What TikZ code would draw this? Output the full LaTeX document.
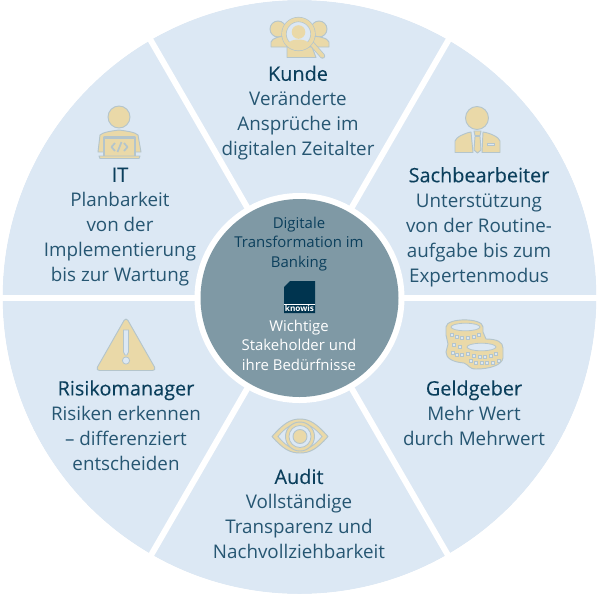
\documentclass[tikz,border=0pt]{standalone}
\usepackage{fontspec}
\setmainfont{Open Sans}
\newfontface\hdfont[FakeBold=0.12]{Open Sans}
\definecolor{wheel}{HTML}{DCE8F4}
\definecolor{hub}{HTML}{7F99A5}
\definecolor{gold}{HTML}{EAD9A8}
\definecolor{edge}{HTML}{B4C5CC}
\definecolor{ink}{HTML}{0B3F5C}
\definecolor{bodyink}{HTML}{265672}
\definecolor{logoblue}{HTML}{00344F}
\tikzset{
  icon/.style={fill=gold,draw=edge,line width=0.7pt,line join=round},
  hole/.style={fill=wheel,draw=edge,line width=0.6pt},
  spoke/.style={draw=white,line width=4.5pt},
  block/.style={align=center,inner sep=0pt,text=bodyink,font=\fontsize{14.1}{18.75}\selectfont},
  hubtext/.style={align=center,inner sep=0pt,font=\fontsize{11.2}{14.6}\selectfont},
  coindot/.style={fill=wheel,draw=edge,line width=0.3pt}
}
\newcommand{\hd}[1]{\textcolor{ink}{\hdfont\fontsize{14.9}{18.75}\selectfont #1}}
\begin{document}
\begin{tikzpicture}[x=0.75pt,y=-0.75pt]
\useasboundingbox (0,0) rectangle (600,594);
\fill[white] (0,0) rectangle (600,594);
\fill[wheel] (299.5,297) circle (297);
% spokes
\coordinate (c) at (299.5,298);
\foreach \a in {0,60,120,180,240,300}
  \draw[spoke] (c) -- ++(\a:305) ;
\fill[white] (299.5,297) circle (310) [even odd rule] (299.5,297) circle (297);
\fill[white] (c) circle (105);
\node[circle,fill=hub,minimum size=148.5pt,inner sep=0pt] (hub) at (c) {};

% central text
\node[hubtext,text=ink] (hubtop) at (299,244) {Digitale\\Transformation im\\Banking};
\node[hubtext,text=white] (hubbot) at (299,345) {Wichtige\\Stakeholder und\\ihre Bedürfnisse};
% logo
\fill[logoblue] (290,281) -- (315,281) -- (315,313) -- (284,313) -- (284,287) -- cycle;
\draw[white,line width=0.3pt] (284,304) -- (315,304);
\node[inner sep=0pt,text=white,font=\fontsize{6.2}{7}\selectfont\bfseries] (logo) at (299.5,308.5) {knowis};

% text blocks
\node[block] (kunde) at (298,113) {\hd{Kunde}\\Veränderte\\Ansprüche im\\digitalen Zeitalter};
\node[block] (sach) at (479,227) {\hd{Sachbearbeiter}\\Unterstützung\\von der Routine-\\aufgabe bis zum\\Expertenmodus};
\node[block] (it) at (120,227) {\hd{IT}\\Planbarkeit\\von der\\Implementierung\\bis zur Wartung};
\node[block] (geld) at (474,413) {\hd{Geldgeber}\\Mehr Wert\\durch Mehrwert};
\node[block] (risk) at (126,425.5) {\hd{Risikomanager}\\Risiken erkennen\\– differenziert\\entscheiden};
\node[block] (audit) at (299,514) {\hd{Audit}\\Vollständige\\Transparenz und\\Nachvollziehbarkeit};

% Kunde icon
\draw[icon] (278,29) circle (8);
\draw[icon] (319,29) circle (8);
\draw[icon] (271,47) -- (271,42) .. controls (272,38) and (280,36) .. (287,36) -- (287,47) -- cycle;
\draw[icon] (329,47) -- (329,42) .. controls (328,38) and (318,36) .. (310,36) -- (310,47) -- cycle;
\draw[icon] (287,57.5) -- (287,47) -- (312,47) -- (316,57.5) -- cycle;
\draw[edge,line width=4pt,line cap=round] (312,44) -- (322.5,56);
\draw[gold,line width=2.8pt,line cap=round] (312,44) -- (322.5,56);
\draw[fill=wheel,draw=edge,line width=3.9pt] (298.5,34) circle (14.5);
\draw[gold,line width=2.9pt] (298.5,34) circle (14.5);
\fill[gold] (298.5,32) circle (6.8);
\fill[gold] (288,45) .. controls (288.5,41) and (293,39.5) .. (298.5,39.5) .. controls (304,39.5) and (308.5,41) .. (309,45) .. controls (304,49) and (293,49) .. (288,45) -- cycle;

% Sachbearbeiter icon
\draw[icon] (477,118) circle (11.5);
\draw[icon] (455,152.5) -- (455,141) .. controls (456,137) and (465,133) .. (471,132) -- (473,152.5) -- cycle;
\draw[icon] (500,152.5) -- (500,141) .. controls (499,137) and (490,133) .. (483,132) -- (482,152.5) -- cycle;
\draw[icon] (474,131) -- (481,131) -- (480,135.5) -- (475,135.5) -- cycle;
\draw[icon] (475,136.5) -- (480,136.5) -- (481,150) -- (477.5,153) -- (474,150) -- cycle;
\draw[hole] (487.5,143.5) rectangle (494.5,145.5);

% IT icon
\draw[icon] (119,117) circle (11);
\draw[icon] (98,152) -- (100,135) .. controls (103,132) and (112,131) .. (119,130) .. controls (126,131) and (135,132) .. (138,135) -- (141,152) -- cycle;
\draw[icon,draw=edge,line width=1.6pt] (104,156) -- (104,137.5) -- (135,137.5) -- (135,156);
\draw[icon] (99,156) -- (140,156) -- (139,158.5) -- (100,158.5) -- cycle;
\draw[edge,line width=1.3pt,line join=round] (115,143) -- (111.5,147) -- (115,151);
\draw[edge,line width=1.3pt,line join=round] (124,143) -- (127.5,147) -- (124,151);
\draw[edge,line width=1.3pt] (121.5,142) -- (117.5,152);

% Geldgeber icon
\draw[icon] (446,327) .. controls (446,317.5) and (483,317.5) .. (483,327) -- (483,332) -- (486,339) .. controls (497,339) and (503,342) .. (503,348) -- (503,358) .. controls (502,365) and (490,369) .. (476,369) .. controls (469,369) and (469,365) .. (464,363) .. controls (452,362) and (446,358) .. (446,352) -- (448,344) -- (446,335) -- cycle;
\draw[hole] (465.5,327) ellipse (14.5 and 3.8);
\draw[hole] (481.5,347) ellipse (14.5 and 3.8);
\foreach \p in {(451.7,334.3),(456.7,336.7),(461.7,337.3),(467.7,337.3),(473.3,336.7),(479,334.3),
  (454,345),(460,346.7),(452.3,352.3),(456.7,354.3),(461.7,355),
  (467.7,353.3),(473.3,356),(479.3,356.7),(485,356.7),(490.7,356),(496,353.3),
  (471,361),(476,362.7),(481.7,362.7),(486.7,362.7),(492.7,362.3),(498.3,360.7)}
  \fill[coindot] \p ++(-1.4,-1.4) rectangle ++(2.8,2.8);

% Risikomanager icon
\draw[icon,rounded corners=3pt] (126,317) -- (156.5,370.5) -- (95.5,370.5) -- cycle;
\draw[hole] (123.5,330) -- (128.5,330) -- (128.5,352) -- (127,355) -- (125,355) -- (123.5,352) -- cycle;
\draw[hole] (126,360.5) circle (3.6);

% Audit icon
\draw[icon] (272,436.5) .. controls (283,424) and (290,419) .. (300,419) .. controls (310,419) and (317,424) .. (328,436.5) .. controls (317,449) and (310,453) .. (300,453) .. controls (290,453) and (283,449) .. (272,436.5) -- cycle;
\draw[hole] (278,436.5) .. controls (286,427) and (292,423.5) .. (300,423.5) .. controls (308,423.5) and (314,427) .. (322,436.5) .. controls (314,446) and (308,449.5) .. (300,449.5) .. controls (292,449.5) and (286,446) .. (278,436.5) -- cycle;
\draw[icon] (300,436.5) circle (14.5);
\draw[hole] (300,436.5) circle (11);
\draw[icon] (300,436.5) circle (7);
\end{tikzpicture}
\end{document}
